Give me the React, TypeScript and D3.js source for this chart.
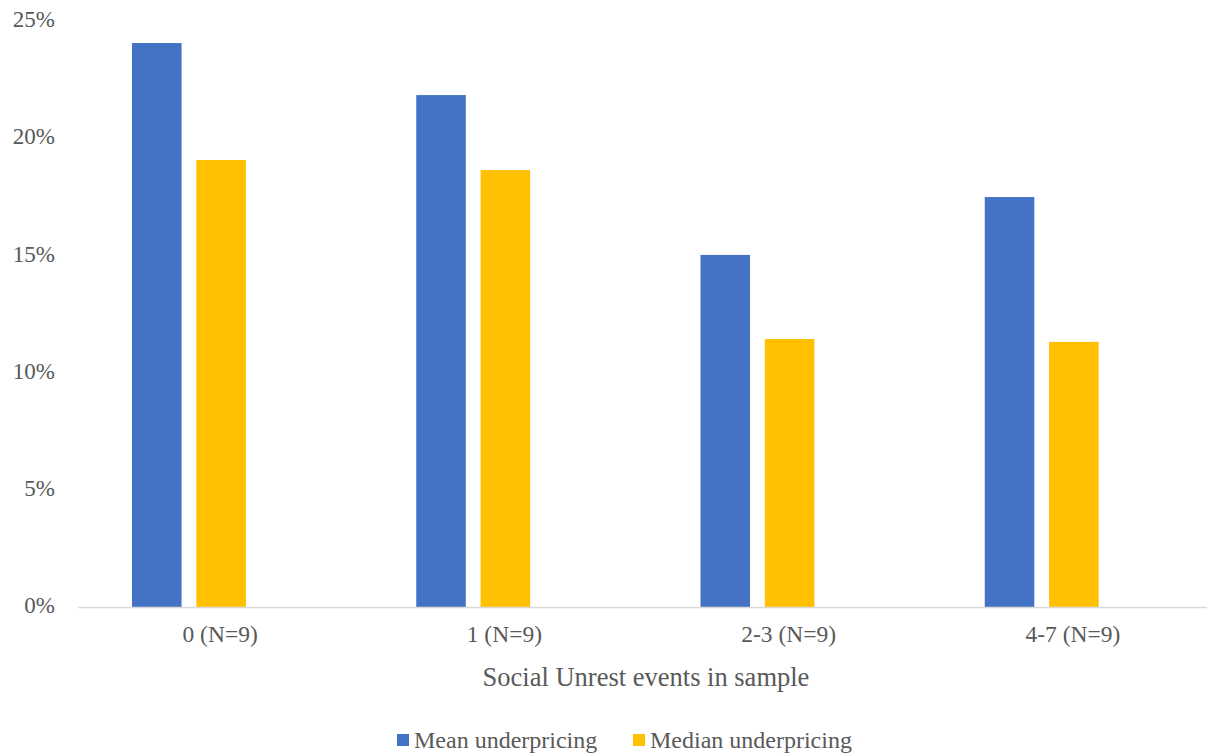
import { useRef, useEffect } from "react";
import { select, scaleLinear, scaleBand } from "d3";

const categories = ["0 (N=9)", "1 (N=9)", "2-3 (N=9)", "4-7 (N=9)"];
const seriesNames = ["Mean underpricing", "Median underpricing"];
const meanValues = [0.2406, 0.2184, 0.1502, 0.1749];
const medianValues = [0.1907, 0.1864, 0.1143, 0.1131];
const yTicks = [0, 0.05, 0.1, 0.15, 0.2, 0.25];
const colors = ["#4472C4", "#FFC000"];
const xTitle = "Social Unrest events in sample";

const W = 1207;
const H = 755;

export default function App() {
  const svgRef = useRef<SVGSVGElement>(null);

  useEffect(() => {
    const svg = select(svgRef.current);
    svg.selectAll("*").remove();
    const font = "'Liberation Serif', 'Times New Roman', serif";
    const textColor = "#595959";

    // scales
    const x = scaleBand<string>().domain(categories).range([78, 1215]);
    // Excel-style cluster: 3 slots (third one empty), gap width on the outside
    const inner = scaleBand<number>()
      .domain([0, 1, 2])
      .range([54, x.bandwidth() - 52])
      .paddingInner(0.23);
    const y = scaleLinear().domain([0, 0.25]).range([607, 21]);

    // bars
    const series = [meanValues, medianValues];
    series.forEach((vals, si) => {
      svg
        .append("g")
        .selectAll("rect")
        .data(vals)
        .join("rect")
        .attr("x", (d, i) => (x(categories[i]) as number) + (inner(si) as number))
        .attr("y", (d) => y(d))
        .attr("width", inner.bandwidth())
        .attr("height", (d) => y(0) - y(d))
        .attr("fill", colors[si]);
    });

    // x axis line
    svg
      .append("line")
      .attr("x1", 78)
      .attr("x2", W)
      .attr("y1", y(0) + 0.5)
      .attr("y2", y(0) + 0.5)
      .attr("stroke", "#D9D9D9")
      .attr("stroke-width", 1.5);

    // y tick labels
    svg
      .append("g")
      .selectAll("text")
      .data(yTicks)
      .join("text")
      .attr("x", 55)
      .attr("y", (d) => y(d) + 1)
      .attr("text-anchor", "end")
      .attr("dominant-baseline", "middle")
      .attr("font-family", font)
      .attr("font-size", 23)
      .attr("fill", textColor)
      .text((d) => `${Math.round(d * 100)}%`);

    // category labels
    svg
      .append("g")
      .selectAll("text")
      .data(categories)
      .join("text")
      .attr("x", (d) => (x(d) as number) + x.bandwidth() / 2)
      .attr("y", 642)
      .attr("text-anchor", "middle")
      .attr("font-family", font)
      .attr("font-size", 23.5)
      .attr("fill", textColor)
      .text((d) => d);

    // axis title
    svg
      .append("text")
      .attr("x", 646)
      .attr("y", 686)
      .attr("text-anchor", "middle")
      .attr("font-family", font)
      .attr("font-size", 26.5)
      .attr("fill", textColor)
      .text(xTitle);

    // legend
    const legendX = [397, 633];
    seriesNames.forEach((name, i) => {
      const g = svg.append("g").attr("transform", `translate(${legendX[i]},734)`);
      g.append("rect").attr("width", 12).attr("height", 12).attr("fill", colors[i]);
      g.append("text")
        .attr("x", 17)
        .attr("y", 14)
        .attr("font-family", font)
        .attr("font-size", 24)
        .attr("fill", textColor)
        .text(name);
    });
  }, []);

  return (
    <svg
      ref={svgRef}
      width={W}
      height={H}
      style={{ position: "absolute", left: 0, top: 0, background: "#fff" }}
    />
  );
}
